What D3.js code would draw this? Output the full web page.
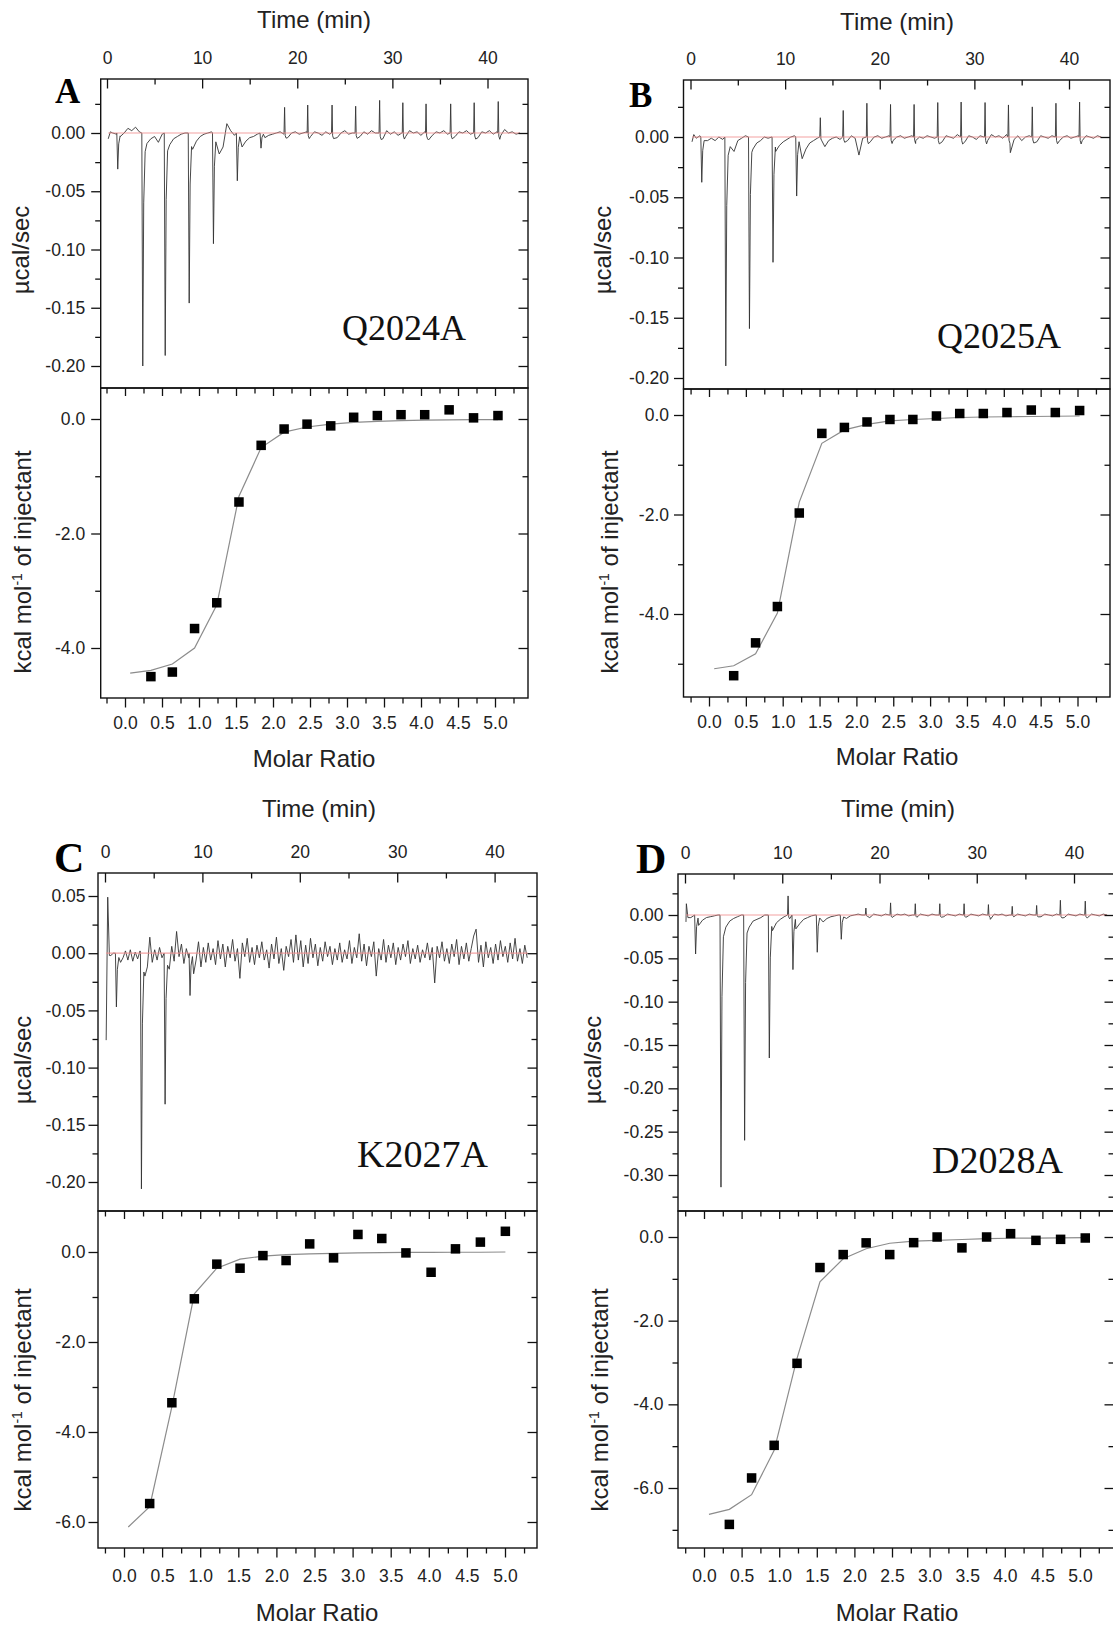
<!DOCTYPE html>
<html>
<head>
<meta charset="utf-8">
<title>ITC titrations of the alanine mutants</title>
<script src="https://cdn.jsdelivr.net/npm/d3@7"></script>
<style>
    body{margin:0;background:#fff;}
    .tick text{font-family:Arial,"Liberation Sans",sans-serif;font-size:17.5px;fill:#222;}
    .tick line{stroke:#111;stroke-width:1.3;}
    .frame{fill:none;stroke:#111;stroke-width:1.4;}
    .title{font-family:Arial,"Liberation Sans",sans-serif;font-size:24px;fill:#222;}
    .letter{font-family:"Liberation Serif","Times New Roman",serif;font-weight:bold;fill:#000;}
    .mutant{font-family:"Liberation Serif","Times New Roman",serif;fill:#111;}
    .trace{fill:none;stroke:#333;stroke-width:0.9;}
    .baseline{stroke:#f39292;stroke-width:1.2;opacity:0.85;}
    .fit{fill:none;stroke:#8c8c8c;stroke-width:1.2;}
</style>
</head>
<body>
<script>
//anonymous function to wrap script
(function(){

    //tick labels shared by all panels
    var timeTicks = [0, 10, 20, 30, 40],
        timeMinor = [5, 15, 25, 35];
    var ratioTicks = [0, 0.5, 1, 1.5, 2, 2.5, 3, 3.5, 4, 4.5, 5],
        ratioMinor = [-0.25, 0.25, 0.75, 1.25, 1.75, 2.25, 2.75, 3.25, 3.75, 4.25, 4.75, 5.25];

    //power (ucal/sec) ticks
    var powerTicksAB = [0, -0.05, -0.10, -0.15, -0.20],
        powerMinorAB = [0.025, -0.025, -0.075, -0.125, -0.175];
    var powerTicksC = [0.05, 0, -0.05, -0.10, -0.15, -0.20],
        powerMinorC = [0.025, -0.025, -0.075, -0.125, -0.175];
    var powerTicksD = [0, -0.05, -0.10, -0.15, -0.20, -0.25, -0.30],
        powerMinorD = [0.025, -0.025, -0.075, -0.125, -0.175, -0.225, -0.275, -0.325];

    //heat (kcal/mol) ticks
    var heatTicksAB = [0, -2, -4],
        heatMinorA = [-1, -3],
        heatMinorB = [-1, -3, -5];
    var heatTicksCD = [0, -2, -4, -6],
        heatMinorC = [-1, -3, -5],
        heatMinorD = [-1, -3, -5, -7];

    //---- Q2024A ----
    var molarA = [0.35, 0.64, 0.94, 1.24, 1.54, 1.84, 2.15, 2.46, 2.78, 3.09, 3.41, 3.73, 4.05, 4.38, 4.71, 5.04];
    var heatA = [-4.50, -4.42, -3.66, -3.21, -1.45, -0.46, -0.175, -0.09, -0.12, 0.03, 0.06, 0.075, 0.075, 0.16, 0.02, 0.06];
    var fitStartA = 0.07;
    var fitA = [-4.44, -4.39, -4.28, -4.0, -3.25, -1.35, -0.5, -0.23, -0.14, -0.09, -0.06, -0.04, -0.03, -0.02, -0.015, -0.01, -0.01];
    var injA = [1.13, 3.76, 6.12, 8.64, 11.19, 13.7, 16.19, 18.67, 21.1, 23.66, 26.14, 28.66, 31.1, 33.54, 36.13, 38.6, 41.13];
    var peakA = [-0.031, -0.200, -0.191, -0.146, -0.095, -0.041, -0.013, 0.022, 0.024, 0.024, 0.023, 0.028, 0.026, 0.025, 0.025, 0.026, 0.027];
    var startA = [[0.13, -0.005], [0.35, 0.001]];
    //baseline samples every 0.4 min from 0.6 min, in 0.001 ucal/sec
    var rawA = [0,-1,-3,0,4,2,5,1,0,-9,-5,-3,-8,-1,0,-10,-5,-3,-1,0,0,-14,-7,-3,-1,0,1,0,-18,-12,
                8,2,-2,0,-12,-7,-4,-3,-1,0,-4,-2,-1,0,1,-1,-4,0,1,-1,0,1,-3,1,0,-2,1,-1,0,-4,
                0,2,-1,0,0,-3,1,-1,2,0,1,-5,2,-1,1,-2,0,-3,2,0,1,-2,1,-6,-2,1,0,2,-1,0,
                -3,1,0,2,-1,0,-4,1,0,2,-1,1,-2,3,0,1,-1,0];

    //---- Q2025A ----
    var molarB = [0.335, 0.632, 0.928, 1.225, 1.531, 1.837, 2.144, 2.455, 2.766, 3.086, 3.402, 3.722, 4.043, 4.373, 4.699, 5.029];
    var heatB = [-5.24, -4.58, -3.85, -1.97, -0.37, -0.25, -0.14, -0.09, -0.09, -0.02, 0.03, 0.03, 0.05, 0.10, 0.05, 0.09];
    var fitStartB = 0.07;
    var fitB = [-5.10, -5.04, -4.80, -3.98, -1.75, -0.57, -0.30, -0.19, -0.12, -0.09, -0.07, -0.05, -0.04, -0.035, -0.03, -0.025, -0.02];
    var injB = [1.19, 3.73, 6.23, 8.72, 11.22, 13.72, 16.14, 18.64, 21.14, 23.63, 26.13, 28.6, 31.13, 33.6, 36.12, 38.62, 41.12];
    var peakB = [-0.0376, -0.190, -0.159, -0.104, -0.049, 0.016, 0.022, 0.028, 0.027, 0.027, 0.0286, 0.029, 0.0286, 0.0266, 0.025, 0.028, 0.029];
    var startB = [[0.16, -0.004], [0.35, 0.002]];
    var rawB = [-1,1,-6,-3,-1,-3,0,-2,0,-8,-12,-3,-1,1,0,-10,-5,-3,0,-1,0,-12,-7,-4,-2,0,1,0,-18,-10,
                -5,-3,-1,0,-8,-3,-1,0,-2,0,-3,1,-1,-15,-1,0,-4,0,1,-1,0,1,-3,0,1,-1,0,1,-3,0,
                -1,1,0,-1,0,-4,1,0,-1,2,0,-4,1,0,-2,1,0,-3,2,0,1,-1,2,-13,-2,1,-3,0,1,0,
                -4,1,0,-1,1,0,-3,0,1,-1,0,1,-3,1,0,-1,1,0];

    //---- K2027A ----
    var molarC = [0.337, 0.628, 0.923, 1.218, 1.523, 1.823, 2.127, 2.437, 2.75, 3.07, 3.383, 3.70, 4.03, 4.35, 4.677, 5.005];
    var heatC = [-5.59, -3.35, -1.04, -0.27, -0.36, -0.08, -0.19, 0.18, -0.13, 0.39, 0.30, -0.02, -0.45, 0.07, 0.22, 0.46];
    var fitStartC = 0.056;
    var fitC = [-6.11, -5.66, -3.44, -0.93, -0.36, -0.16, -0.09, -0.06, -0.04, -0.03, -0.02, -0.015, -0.01, -0.01, -0.005, -0.005, 0];
    var injC = [1.17, 3.74, 6.17, 8.73];
    var peakC = [-0.047, -0.206, -0.132, -0.037];
    var startC = [[0.12, -0.076], [0.28, 0.049], [0.45, -0.002]];
    //baseline samples every 0.25 min from 0.6 min
    var rawC = [-2,0,0,0,-8,-4,2,-6,3,-7,1,-5,2,0,-20,-12,14,-8,3,-6,5,-4,0,0,-14,6,-7,19,-3,8,
                -9,4,-4,0,-18,-6,10,
                -12,5,-8,9,-6,4,-10,11,-5,8,-12,6,-4,12,-7,4,-22,9,-3,13,
                -8,5,-10,7,-4,10,-6,3,-13,8,-5,14,-9,4,-15,6,-3,12,-8,16,
                -6,11,-12,7,-9,13,-4,8,-11,5,-7,10,-3,6,-10,4,-6,9,-8,3,
                -5,11,-9,5,-4,17,-7,8,-11,6,-3,10,-20,4,-6,12,-8,7,-4,9,
                -10,5,-6,8,-3,11,-9,4,-5,7,-8,3,-4,9,-6,5,-26,6,-4,10,
                -7,4,-9,8,-3,12,-10,6,-5,9,-7,4,15,21,-8,7,-12,10,-4,5,
                -9,8,-6,11,-3,6,-8,9,-5,13,-7,4,-9,7,-4];

    //---- D2028A ----
    var molarD = [0.337, 0.633, 0.933, 1.237, 1.542, 1.851, 2.156, 2.47, 2.788, 3.10, 3.43, 3.758, 4.077, 4.414, 4.742, 5.07];
    var heatD = [-6.87, -5.76, -4.98, -3.02, -0.73, -0.42, -0.14, -0.42, -0.135, 0.0, -0.26, 0.0, 0.08, -0.08, -0.056, -0.024];
    var fitStartD = 0.066;
    var fitD = [-6.63, -6.51, -6.16, -5.1, -2.9, -1.07, -0.52, -0.28, -0.15, -0.10, -0.08, -0.06, -0.04, -0.03, -0.025, -0.02, -0.015];
    var injD = [1.09, 3.70, 6.13, 8.67, 10.6, 11.1, 13.6, 16.07, 18.6, 21.14, 23.68, 26.2, 28.7, 31.2, 33.65, 36.16, 38.6, 41.16];
    var peakD = [-0.045, -0.314, -0.26, -0.165, 0.022, -0.063, -0.043, -0.028, 0.008, 0.014, 0.013, 0.013, 0.013, 0.012, 0.010, 0.011, 0.017, 0.016];
    var startD = [[0.1, -0.008], [0.14, 0.013], [0.3, -0.003]];
    var rawD = [-3,-2,-12,-6,-3,-2,-1,0,0,-14,-7,-4,-2,0,0,-14,-7,-5,-3,0,0,-18,-9,-5,-2,0,0,-16,-10,-5,
                -3,-1,0,0,-8,-4,-2,-1,0,0,-4,-1,0,1,0,0,-3,1,0,-1,1,0,-2,1,0,1,-1,0,-5,1,
                0,-1,1,0,0,-2,1,0,-1,1,0,-2,1,0,-1,1,0,-5,1,0,1,-1,0,-3,1,0,-1,1,0,0,
                -2,1,0,-1,1,0,-3,1,0,-1,1,0,-3,1,0,-1,1,0];

    //shape of a sharp injection peak (offset in min, fraction of peak value)
    var dipShape = {dt: [-0.1, 0, 0.1, 0.25], f: [0, 1, 0.3, 0.08]};
    var spikeShape = {dt: [-0.06, 0, 0.06, 0.16], f: [0, 1, -0.1, -0.2]};
    var traceEnd = 43.4;

    //panel layout in page pixels (frame: x0, x1, top, divider, bottom)
    var panels = [
        {letter: "A", letterPos: [55, 103, 35], mutant: "Q2024A", mutantPos: [342, 340, 36],
         frame: [100.7, 528, 79, 388, 698], timeCal: [107, 487.5], power: [[0, -0.20], [133, 366]],
         ratioCal: [125, 495], heat: [[0, -4], [419, 648]], leftPad: 6, bottomPad: 9,
         timeTitle: [314, 28], ratioTitle: [314, 767], powerTitle: [29, 250], heatTitle: [31, 562],
         powerTicks: powerTicksAB, powerMinor: powerMinorAB, heatTicks: heatTicksAB, heatMinor: heatMinorA,
         molar: molarA, heatVals: heatA, fitStart: fitStartA, fit: fitA,
         inj: injA, peak: peakA, start: startA, raw: rawA, dt: 0.4},
        {letter: "B", letterPos: [629, 107, 35], mutant: "Q2025A", mutantPos: [937, 348, 36],
         frame: [683.5, 1110, 80, 389, 697], timeCal: [690.5, 1069], power: [[0, -0.20], [137, 378]],
         ratioCal: [709, 1077.5], heat: [[0, -4], [415, 614]], leftPad: 5, bottomPad: 9,
         timeTitle: [897, 30], ratioTitle: [897, 765], powerTitle: [611, 250], heatTitle: [618, 562],
         powerTicks: powerTicksAB, powerMinor: powerMinorAB, heatTicks: heatTicksAB, heatMinor: heatMinorB,
         molar: molarB, heatVals: heatB, fitStart: fitStartB, fit: fitB,
         inj: injB, peak: peakB, start: startB, raw: rawB, dt: 0.4},
        {letter: "C", letterPos: [54, 872, 42], mutant: "K2027A", mutantPos: [357, 1167, 38],
         frame: [98, 537, 873, 1211, 1548], timeCal: [105, 494.6], power: [[0.05, -0.20], [896, 1182]],
         ratioCal: [124, 505], heat: [[0, -6], [1252, 1522]], leftPad: 3, bottomPad: 12,
         timeTitle: [319, 817], ratioTitle: [317, 1621], powerTitle: [31, 1060], heatTitle: [31, 1400],
         powerTicks: powerTicksC, powerMinor: powerMinorC, heatTicks: heatTicksCD, heatMinor: heatMinorC,
         molar: molarC, heatVals: heatC, fitStart: fitStartC, fit: fitC,
         inj: injC, peak: peakC, start: startC, raw: rawC, dt: 0.25},
        {letter: "D", letterPos: [636, 873, 42], mutant: "D2028A", mutantPos: [932, 1173, 38],
         frame: [678, 1114, 874, 1211, 1548], timeCal: [685, 1074], power: [[0, -0.30], [915, 1175]],
         ratioCal: [704, 1080], heat: [[0, -6], [1237, 1488]], leftPad: 5, bottomPad: 12,
         timeTitle: [898, 817], ratioTitle: [897, 1621], powerTitle: [601, 1060], heatTitle: [608, 1400],
         powerTicks: powerTicksD, powerMinor: powerMinorD, heatTicks: heatTicksCD, heatMinor: heatMinorD,
         molar: molarD, heatVals: heatD, fitStart: fitStartD, fit: fitD,
         inj: injD, peak: peakD, start: startD, raw: rawD, dt: 0.4}
    ];

    //create svg container
    var svg = d3.select("body")
        .append("svg")
        .attr("width", 1113)
        .attr("height", 1627);

    panels.forEach(drawPanel);

    //merge baseline samples with the sharp injection peaks
    function buildTrace(p){
        var pts = p.start.slice();
        var windows = p.inj.map(function(t, i){
            var s = p.peak[i] < 0 ? dipShape : spikeShape;
            return [t + s.dt[0], t + s.dt[s.dt.length - 1]];
        });
        p.raw.forEach(function(v, i){
            var t = 0.6 + i * p.dt;
            if (t > traceEnd + 0.01) return;
            var inside = windows.some(function(w){ return t >= w[0] && t <= w[1]; });
            if (!inside) pts.push([t, v / 1000]);
        });
        p.inj.forEach(function(t, i){
            var s = p.peak[i] < 0 ? dipShape : spikeShape;
            s.dt.forEach(function(d, j){ pts.push([t + d, p.peak[i] * s.f[j]]); });
        });
        pts.sort(function(a, b){ return a[0] - b[0]; });
        return pts;
    };

    //axis helper - ticks only, domain line removed (frame drawn separately)
    function addAxis(axis, values, size, fmt, pad, tx, ty){
        axis.tickValues(values)
            .tickSizeInner(size)
            .tickSizeOuter(0)
            .tickPadding(pad || 0)
            .tickFormat(fmt || function(){ return ""; });
        var g = svg.append("g")
            .attr("transform", "translate(" + tx + "," + ty + ")")
            .call(axis);
        g.select(".domain").remove();
        return g;
    };

    function drawPanel(p, idx){
        var x0 = p.frame[0], x1 = p.frame[1],
            yTop = p.frame[2], yMid = p.frame[3], yBot = p.frame[4];

        //scales calibrated on two labelled ticks
        var time = d3.scaleLinear().domain([0, 40]).range(p.timeCal);
        var power = d3.scaleLinear().domain(p.power[0]).range(p.power[1]);
        var ratio = d3.scaleLinear().domain([0, 5]).range(p.ratioCal);
        var heat = d3.scaleLinear().domain(p.heat[0]).range(p.heat[1]);

        var f2 = function(d){ return d.toFixed(2); },
            f1 = function(d){ return d.toFixed(1); },
            f0 = function(d){ return d; };

        //clip for raw thermogram
        svg.append("clipPath").attr("id", "clip" + idx)
            .append("rect")
            .attr("x", x0).attr("y", yTop)
            .attr("width", x1 - x0).attr("height", yMid - yTop);

        var trace = buildTrace(p);
        var line = d3.line()
            .x(function(d){ return time(d[0]); })
            .y(function(d){ return power(d[1]); });

        svg.append("path")
            .datum(trace)
            .attr("class", "trace")
            .attr("clip-path", "url(#clip" + idx + ")")
            .attr("d", line);

        //red zero baseline
        svg.append("line")
            .attr("class", "baseline")
            .attr("x1", time(p.start[0][0])).attr("x2", time(traceEnd))
            .attr("y1", power(0)).attr("y2", power(0));

        //fitted isotherm then data squares
        var fitPts = d3.zip([p.fitStart].concat(p.molar), p.fit);
        svg.append("path")
            .datum(fitPts)
            .attr("class", "fit")
            .attr("d", d3.line()
                .x(function(d){ return ratio(d[0]); })
                .y(function(d){ return heat(d[1]); }));

        svg.selectAll(".sq" + idx)
            .data(d3.zip(p.molar, p.heatVals))
            .enter()
            .append("rect")
            .attr("class", "sq" + idx)
            .attr("x", function(d){ return ratio(d[0]) - 4.75; })
            .attr("y", function(d){ return heat(d[1]) - 4.75; })
            .attr("width", 9.5)
            .attr("height", 9.5)
            .attr("fill", "#000");

        //time axis on top, ticks inward
        addAxis(d3.axisTop(time), timeTicks, -9.5, f0, 15, 0, yTop);
        addAxis(d3.axisTop(time), timeMinor, -5.5, null, 0, 0, yTop);

        //power axes: left outward, right inward
        addAxis(d3.axisLeft(power), p.powerTicks, 9.5, f2, p.leftPad, x0, 0);
        addAxis(d3.axisLeft(power), p.powerMinor, 5.5, null, 0, x0, 0);
        addAxis(d3.axisLeft(power), p.powerTicks, 9.5, null, 0, x1, 0);
        addAxis(d3.axisLeft(power), p.powerMinor, 5.5, null, 0, x1, 0);

        //heat axes
        addAxis(d3.axisLeft(heat), p.heatTicks, 9.5, f1, p.leftPad, x0, 0);
        addAxis(d3.axisLeft(heat), p.heatMinor, 5.5, null, 0, x0, 0);
        addAxis(d3.axisLeft(heat), p.heatTicks, 9.5, null, 0, x1, 0);
        addAxis(d3.axisLeft(heat), p.heatMinor, 5.5, null, 0, x1, 0);

        //molar ratio axes: bottom outward with labels, divider inward
        addAxis(d3.axisBottom(ratio), ratioTicks, 9.5, f1, p.bottomPad, 0, yBot);
        addAxis(d3.axisBottom(ratio), ratioMinor, 5.5, null, 0, 0, yBot);
        addAxis(d3.axisBottom(ratio), ratioTicks, 8, null, 0, 0, yMid);
        addAxis(d3.axisBottom(ratio), ratioMinor, 5.5, null, 0, 0, yMid);

        //frames
        svg.append("rect").attr("class", "frame")
            .attr("x", x0).attr("y", yTop).attr("width", x1 - x0).attr("height", yMid - yTop);
        svg.append("rect").attr("class", "frame")
            .attr("x", x0).attr("y", yMid).attr("width", x1 - x0).attr("height", yBot - yMid);

        //titles
        svg.append("text").attr("class", "title")
            .attr("x", p.timeTitle[0]).attr("y", p.timeTitle[1])
            .attr("text-anchor", "middle").text("Time (min)");
        svg.append("text").attr("class", "title")
            .attr("x", p.ratioTitle[0]).attr("y", p.ratioTitle[1])
            .attr("text-anchor", "middle").text("Molar Ratio");
        svg.append("text").attr("class", "title")
            .attr("transform", "translate(" + p.powerTitle[0] + "," + p.powerTitle[1] + ") rotate(-90)")
            .attr("text-anchor", "middle").text("\u00b5cal/sec");

        var kcal = svg.append("text").attr("class", "title")
            .attr("transform", "translate(" + p.heatTitle[0] + "," + p.heatTitle[1] + ") rotate(-90)")
            .attr("text-anchor", "middle");
        kcal.append("tspan").text("kcal mol");
        kcal.append("tspan").attr("dy", -9).style("font-size", "14px").text("-1");
        kcal.append("tspan").attr("dy", 9).text(" of injectant");

        //panel letter and mutant name
        svg.append("text").attr("class", "letter")
            .attr("x", p.letterPos[0]).attr("y", p.letterPos[1])
            .style("font-size", p.letterPos[2] + "px").text(p.letter);
        svg.append("text").attr("class", "mutant")
            .attr("x", p.mutantPos[0]).attr("y", p.mutantPos[1])
            .style("font-size", p.mutantPos[2] + "px").text(p.mutant);
    };

})();
</script>
</body>
</html>
